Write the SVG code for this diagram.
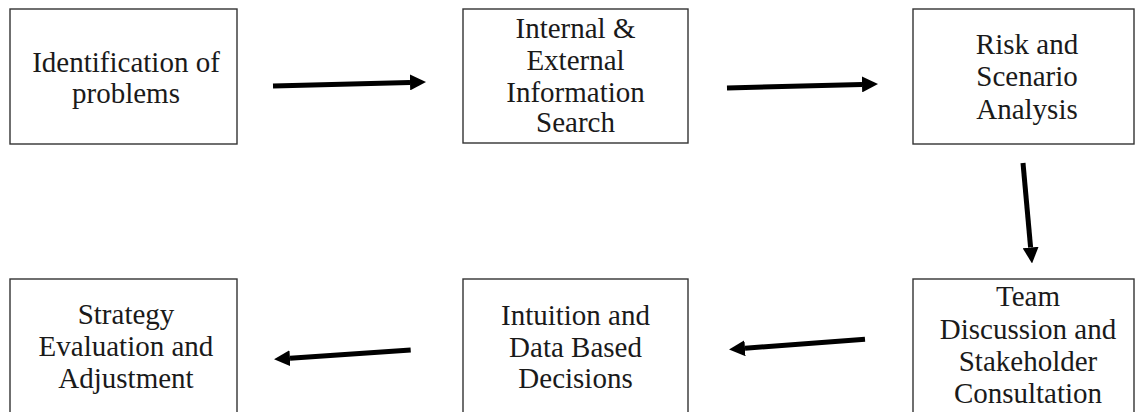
<svg xmlns="http://www.w3.org/2000/svg" width="1135" height="412" viewBox="0 0 1135 412">
<defs>
<style>
.box{fill:#fff;stroke:#333;stroke-width:1.4}
.t{font-family:"Liberation Serif","Times New Roman",serif;font-size:29px;fill:#1a1a1a;text-anchor:middle}
.c{fill:none;stroke:#000;stroke-width:5}
</style>
<marker id="ah" markerUnits="userSpaceOnUse" markerWidth="16" markerHeight="16" refX="0" refY="8" orient="auto" viewBox="0 0 16 16">
<path d="M0,0 L16,8 L0,16 z" fill="#000"/>
</marker>
</defs>
<rect width="1135" height="412" fill="#fff"/>
<g id="n1">
<rect class="box" x="10" y="9" width="227" height="135"/>
<text class="t" x="126" y="71.5">Identification of</text>
<text class="t" x="126" y="103">problems</text>
</g>
<g id="n2">
<rect class="box" x="463" y="9" width="225" height="134"/>
<text class="t" x="575.5" y="38">Internal &amp;</text>
<text class="t" x="575.5" y="70">External</text>
<text class="t" x="575.5" y="101.5">Information</text>
<text class="t" x="575.5" y="132">Search</text>
</g>
<g id="n3">
<rect class="box" x="913" y="9" width="221" height="135"/>
<text class="t" x="1027" y="53.5">Risk and</text>
<text class="t" x="1027" y="86">Scenario</text>
<text class="t" x="1027" y="119">Analysis</text>
</g>
<g id="n4">
<rect class="box" x="913" y="279" width="221" height="150"/>
<text class="t" x="1028" y="306">Team</text>
<text class="t" x="1028" y="338.5">Discussion and</text>
<text class="t" x="1028" y="370.5">Stakeholder</text>
<text class="t" x="1028" y="403">Consultation</text>
</g>
<g id="n5">
<rect class="box" x="463" y="279" width="225" height="150"/>
<text class="t" x="575.5" y="325">Intuition and</text>
<text class="t" x="575.5" y="356.5">Data Based</text>
<text class="t" x="575.5" y="388">Decisions</text>
</g>
<g id="n6">
<rect class="box" x="10" y="279" width="227" height="150"/>
<text class="t" x="126" y="324">Strategy</text>
<text class="t" x="126" y="356">Evaluation and</text>
<text class="t" x="126" y="388">Adjustment</text>
</g>
<g id="connectors">
<path class="c" d="M273,86 L410,82.4" marker-end="url(#ah)"/>
<path class="c" d="M727,88 L862,84.4" marker-end="url(#ah)"/>
<path class="c" d="M1023,163 L1030.6,247.5" marker-end="url(#ah)"/>
<path class="c" d="M865,339.3 L745,348.2" marker-end="url(#ah)"/>
<path class="c" d="M410.7,350 L290,358.2" marker-end="url(#ah)"/>
</g>
</svg>
